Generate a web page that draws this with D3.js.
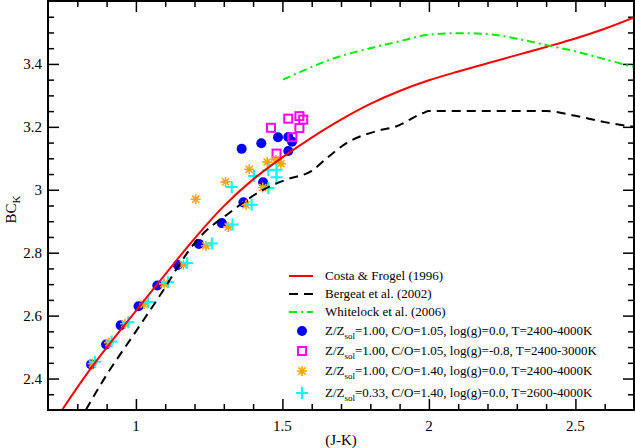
<!DOCTYPE html>
<html>
<head>
<meta charset="utf-8">
<script src="https://cdn.jsdelivr.net/npm/d3@7"></script>
<style>
  html, body { margin: 0; padding: 0; background: #fff; }
  svg { display: block; font-family: "Liberation Serif", "DejaVu Serif", serif; }
</style>
</head>
<body>
<div id="chart"></div>
<script>
// curves: [J-K, BC_K]
const costaFrogel = [
  [0.748, 2.30], [0.85, 2.437], [1.0, 2.615], [1.1, 2.731], [1.2, 2.845], [1.3, 2.948],
  [1.4, 3.033], [1.5, 3.103], [1.6, 3.166], [1.7, 3.223], [1.8, 3.273], [1.9, 3.314],
  [2.0, 3.348], [2.1, 3.376], [2.2, 3.402], [2.3, 3.428], [2.4, 3.454], [2.5, 3.481],
  [2.6, 3.512], [2.7, 3.548]
];
const bergeat = [
  [0.829, 2.30], [0.889, 2.395], [1.0, 2.55], [1.1, 2.69], [1.15, 2.765], [1.207, 2.838],
  [1.321, 2.928], [1.434, 3.0], [1.515, 3.033], [1.6, 3.06], [1.651, 3.1], [1.72, 3.149],
  [1.82, 3.186], [1.89, 3.202], [1.98, 3.244], [2.0, 3.25], [2.4, 3.25], [2.5, 3.235],
  [2.6, 3.215], [2.7, 3.2]
];
const whitelock = [
  [1.502, 3.350], [1.617, 3.397], [1.7, 3.425], [1.8, 3.45], [1.9, 3.472], [2.0, 3.493],
  [2.2, 3.495], [2.3, 3.48], [2.4, 3.46], [2.5, 3.44], [2.6, 3.415], [2.7, 3.39]
];

// model points
const solCO105 = [
  [0.847, 2.445], [0.898, 2.508], [0.948, 2.569], [1.009, 2.630], [1.073, 2.696],
  [1.143, 2.761], [1.215, 2.828], [1.293, 2.894], [1.367, 2.960], [1.434, 3.024],
  [1.361, 3.130], [1.428, 3.148], [1.485, 3.167], [1.520, 3.168], [1.533, 3.153], [1.520, 3.123]
];
const solCO105lowg = [
  [1.461, 3.197], [1.520, 3.226], [1.558, 3.234], [1.571, 3.223], [1.558, 3.196],
  [1.534, 3.167], [1.480, 3.115]
];
const solCO140 = [
  [0.852, 2.447], [0.908, 2.514], [0.963, 2.574], [1.028, 2.637], [1.096, 2.701],
  [1.162, 2.762], [1.239, 2.822], [1.315, 2.882], [1.376, 2.952], [1.433, 3.007],
  [1.204, 2.970], [1.306, 3.025], [1.387, 3.065], [1.448, 3.088], [1.478, 3.095], [1.495, 3.083]
];
const lowZCO140 = [
  [0.860, 2.453], [0.917, 2.518], [0.974, 2.579], [1.042, 2.643], [1.110, 2.706],
  [1.175, 2.767], [1.259, 2.829], [1.330, 2.890], [1.395, 2.952], [1.452, 3.006],
  [1.327, 3.009], [1.403, 3.044], [1.452, 3.062], [1.480, 3.064], [1.480, 3.040]
];

const xTicks = [1, 1.5, 2, 2.5];
const yTicks = [2.4, 2.6, 2.8, 3, 3.2, 3.4];
const xTickLabels = ['1', '1.5', '2', '2.5'];
const yTickLabels = ['2.4', '2.6', '2.8', '3', '3.2', '3.4'];

const lineLegend = ['Costa & Frogel (1996)', 'Bergeat et al. (2002)', 'Whitelock et al. (2006)'];
const pointLegend = [
  '=1.00, C/O=1.05, log(g)=0.0, T=2400-4000K',
  '=1.00, C/O=1.05, log(g)=-0.8, T=2400-3000K',
  '=1.00, C/O=1.40, log(g)=0.0, T=2400-4000K',
  '=0.33, C/O=1.40, log(g)=0.0, T=2600-4000K'
];

(() => {
  const W = 635, H = 448;
  const L = 48, R = 634, T = 1, B = 410;

  const svg = d3.select('#chart').append('svg').attr('width', W).attr('height', H);

  const x = d3.scaleLinear().domain([0.7, 2.7]).range([L, R]);
  const y = d3.scaleLinear().domain([2.3, 3.6]).range([B, T]);

  svg.append('defs').append('clipPath').attr('id', 'plot-clip')
    .append('rect').attr('x', L).attr('y', T).attr('width', R - L).attr('height', B - T);

  // ticks on all four sides, pointing inward
  const xMinor = d3.range(0.8, 2.7, 0.1).map(v => +v.toFixed(2)).filter(v => !xTicks.some(t => Math.abs(t - v) < 1e-6));
  const yMinor = d3.range(2.35, 3.6, 0.05).map(v => +v.toFixed(2)).filter(v => !yTicks.some(t => Math.abs(t - v) < 1e-6));

  const axes = svg.append('g');
  axes.append('g').call(d3.axisTop(x).tickValues(xTicks).tickSize(11).tickFormat(''))
    .attr('transform', `translate(0,${B})`);
  axes.append('g').call(d3.axisTop(x).tickValues(xMinor).tickSize(6).tickFormat(''))
    .attr('transform', `translate(0,${B})`);
  axes.append('g').call(d3.axisBottom(x).tickValues(xTicks).tickSize(11).tickFormat(''))
    .attr('transform', `translate(0,${T})`);
  axes.append('g').call(d3.axisBottom(x).tickValues(xMinor).tickSize(6).tickFormat(''))
    .attr('transform', `translate(0,${T})`);
  axes.append('g').call(d3.axisRight(y).tickValues(yTicks).tickSize(11).tickFormat(''))
    .attr('transform', `translate(${L},0)`);
  axes.append('g').call(d3.axisRight(y).tickValues(yMinor).tickSize(6).tickFormat(''))
    .attr('transform', `translate(${L},0)`);
  axes.append('g').call(d3.axisLeft(y).tickValues(yTicks).tickSize(11).tickFormat(''))
    .attr('transform', `translate(${R},0)`);
  axes.append('g').call(d3.axisLeft(y).tickValues(yMinor).tickSize(6).tickFormat(''))
    .attr('transform', `translate(${R},0)`);
  axes.selectAll('.domain').remove();
  axes.selectAll('line').attr('stroke', '#000').attr('stroke-width', 1.5);

  // tick labels
  svg.append('g').selectAll('text').data(xTicks).join('text')
    .attr('x', d => x(d)).attr('y', B + 21).attr('text-anchor', 'middle')
    .attr('font-size', '15px').text((d, i) => xTickLabels[i]);
  svg.append('g').selectAll('text').data(yTicks).join('text')
    .attr('x', L - 6).attr('y', d => y(d) + 5).attr('text-anchor', 'end')
    .attr('font-size', '15px').text((d, i) => yTickLabels[i]);

  // axis titles
  svg.append('text').attr('x', (L + R) / 2).attr('y', 445).attr('text-anchor', 'middle')
    .attr('font-size', '15px').text('(J-K)');
  const yt = svg.append('text').attr('transform', `translate(16,${(T + B) / 2 + 4}) rotate(-90)`)
    .attr('text-anchor', 'middle').attr('font-size', '15px');
  yt.append('tspan').text('BC');
  yt.append('tspan').attr('font-size', '11px').attr('dy', 4).text('K');

  const plot = svg.append('g').attr('clip-path', 'url(#plot-clip)');

  // symbols
  const asterisk = 'M-5,0H5M0,-5V5M-3.6,-3.6L3.6,3.6M-3.6,3.6L3.6,-3.6';
  const plus = 'M-6,0H6M0,-6V6';

  plot.append('g').selectAll('circle').data(solCO105).join('circle')
    .attr('cx', d => x(d[0])).attr('cy', d => y(d[1])).attr('r', 5).attr('fill', '#0000ff');
  plot.append('g').selectAll('rect').data(solCO105lowg).join('rect')
    .attr('x', d => x(d[0]) - 4).attr('y', d => y(d[1]) - 4).attr('width', 8).attr('height', 8)
    .attr('fill', 'none').attr('stroke', '#ff00ff').attr('stroke-width', 2);
  plot.append('g').selectAll('path').data(solCO140).join('path')
    .attr('d', asterisk).attr('transform', d => `translate(${x(d[0])},${y(d[1])})`)
    .attr('stroke', '#ffa500').attr('stroke-width', 1.6);
  plot.append('g').selectAll('path').data(lowZCO140).join('path')
    .attr('d', plus).attr('transform', d => `translate(${x(d[0])},${y(d[1])})`)
    .attr('stroke', '#00ffff').attr('stroke-width', 2);

  // relations
  const smooth = d3.line().x(d => x(d[0])).y(d => y(d[1])).curve(d3.curveCatmullRom);
  const mono = d3.line().x(d => x(d[0])).y(d => y(d[1])).curve(d3.curveMonotoneX);
  plot.append('path').datum(costaFrogel).attr('d', smooth)
    .attr('fill', 'none').attr('stroke', '#ff0000').attr('stroke-width', 2);
  plot.append('path').datum(bergeat).attr('d', mono)
    .attr('fill', 'none').attr('stroke', '#000').attr('stroke-width', 2).attr('stroke-dasharray', '9,6');
  plot.append('path').datum(whitelock).attr('d', smooth)
    .attr('fill', 'none').attr('stroke', '#00ee00').attr('stroke-width', 2).attr('stroke-dasharray', '8,4,2,4');

  // legend
  const lg = svg.append('g').attr('font-size', '13px');
  const lineStyles = [
    { stroke: '#ff0000', dash: null },
    { stroke: '#000', dash: '9,6' },
    { stroke: '#00ee00', dash: '8,4,2,4' }
  ];
  const lineRowY = [276, 294, 312];
  lineLegend.forEach((label, i) => {
    lg.append('line').attr('x1', 289).attr('x2', 313).attr('y1', lineRowY[i]).attr('y2', lineRowY[i])
      .attr('stroke', lineStyles[i].stroke).attr('stroke-width', 2)
      .attr('stroke-dasharray', lineStyles[i].dash);
    lg.append('text').attr('x', 325).attr('y', lineRowY[i] + 4).text(label);
  });

  const ptRowY = [331, 351, 371, 393];
  const sx = 302;
  lg.append('circle').attr('cx', sx).attr('cy', ptRowY[0]).attr('r', 5).attr('fill', '#0000ff');
  lg.append('rect').attr('x', sx - 4).attr('y', ptRowY[1] - 4).attr('width', 8).attr('height', 8)
    .attr('fill', 'none').attr('stroke', '#ff00ff').attr('stroke-width', 2);
  lg.append('path').attr('d', asterisk).attr('transform', `translate(${sx},${ptRowY[2]})`)
    .attr('stroke', '#ffa500').attr('stroke-width', 1.6);
  lg.append('path').attr('d', plus).attr('transform', `translate(${sx},${ptRowY[3]})`)
    .attr('stroke', '#00ffff').attr('stroke-width', 2);
  pointLegend.forEach((label, i) => {
    const t = lg.append('text').attr('x', 325).attr('y', ptRowY[i] + 4);
    t.append('tspan').text('Z/Z');
    t.append('tspan').attr('font-size', '9px').attr('dy', 4).text('sol');
    t.append('tspan').attr('dy', -4).text(label);
  });

  // frame
  svg.append('rect').attr('x', L).attr('y', T).attr('width', R - L).attr('height', B - T)
    .attr('fill', 'none').attr('stroke', '#000').attr('stroke-width', 2);
})();
</script>
</body>
</html>
